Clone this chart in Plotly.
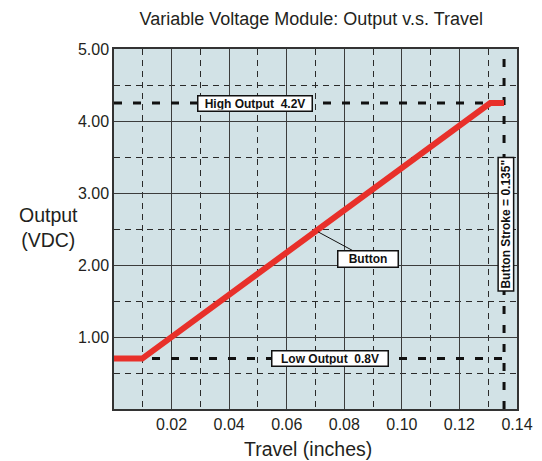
import plotly.graph_objects as go

# Output curve (travel in inches, output in VDC)
travel = [0.0, 0.0098, 0.1307, 0.1355]
output = [0.70, 0.70, 4.25, 4.25]

high_output = 4.25
low_output = 0.70
button_stroke = 0.1355

x_ticks = [0.02, 0.04, 0.06, 0.08, 0.10, 0.12, 0.14]
x_labels = ['0.02', '0.04', '0.06', '0.08', '0.10', '0.12', '0.14']
y_ticks = [1, 2, 3, 4, 5]
y_labels = ['1.00', '2.00', '3.00', '4.00', '5.00']

FONT = 'Liberation Sans, Arial, sans-serif'
TEXT = '#231f20'
BG = '#d2e2e6'
MAJOR = '#3c3c3c'
MINOR = '#2a2a2a'
REF_LINE = dict(color='#111111', width=3, dash='8px,11px')

fig = go.Figure()

# High / low output reference lines
fig.add_trace(go.Scatter(x=[0, button_stroke], y=[high_output, high_output],
                         mode='lines', line=REF_LINE, hoverinfo='skip'))
fig.add_trace(go.Scatter(x=[0, button_stroke], y=[low_output, low_output],
                         mode='lines', line=REF_LINE, hoverinfo='skip'))
# Button stroke line
fig.add_trace(go.Scatter(x=[button_stroke, button_stroke], y=[0, 5],
                         mode='lines', line=REF_LINE, hoverinfo='skip'))

# Output curve
fig.add_trace(go.Scatter(
    x=travel, y=output, mode='lines', name='Button',
    line=dict(color='#e8302a', width=6),
))

box = dict(bgcolor='white', bordercolor='#111111', borderwidth=1.5, borderpad=1,
           font=dict(family=FONT, size=12, color='#111111'))

annotations = [
    dict(x=0.049, y=high_output, text='<b>High Output  4.2V</b>', showarrow=False,
         width=111, height=12, **box),
    dict(x=0.0751, y=low_output, text='<b>Low Output  0.8V</b>', showarrow=False,
         width=113, height=12, **box),
    dict(x=0.0709, y=2.46, ax=50, ay=27, text='<b>Button</b>', showarrow=True,
         arrowhead=0, arrowwidth=1, arrowcolor='#111111', standoff=0,
         width=57, height=13, **box),
    dict(x=0.1362, y=2.56, text='<b>Button Stroke = 0.135"</b>', showarrow=False,
         textangle=-90, width=130, height=12, **box),
    # axis titles
    dict(x=-0.24, y=0.505, xref='paper', yref='paper', text='Output<br>(VDC)',
         showarrow=False, font=dict(family=FONT, size=19.5, color=TEXT), align='center'),
    dict(x=0.481, y=-0.112, xref='paper', yref='paper', text='Travel (inches)',
         showarrow=False, yanchor='middle', font=dict(family=FONT, size=19.5, color=TEXT)),
]

fig.update_layout(
    width=534, height=453,
    margin=dict(l=106, r=25, t=41, b=52, autoexpand=False),
    paper_bgcolor='white',
    plot_bgcolor=BG,
    showlegend=False,
    title=dict(text='Variable Voltage Module: Output v.s. Travel', x=0.568, xanchor='center',
               y=0.977, yanchor='middle',
               font=dict(family=FONT, size=18, color=TEXT)),
    annotations=annotations,
    font=dict(family=FONT, color=TEXT),
)

fig.update_xaxes(
    range=[0, 0.14], tickmode='array', tickvals=x_ticks, ticktext=x_labels,
    tickfont=dict(size=16, color=TEXT), ticks='', ticklen=0,
    showgrid=True, gridcolor=MAJOR, gridwidth=1,
    minor=dict(tickmode='linear', tick0=0.01, dtick=0.02, showgrid=True,
               gridcolor=MINOR, griddash='6px,5px', gridwidth=1),
    showline=True, linecolor='#333333', linewidth=1.5, mirror=True,
    zeroline=False, automargin=False,
)
fig.update_yaxes(
    range=[0, 5], tickmode='array', tickvals=y_ticks, ticktext=y_labels,
    tickfont=dict(size=16, color=TEXT), ticks='', ticklen=0,
    showgrid=True, gridcolor=MAJOR, gridwidth=1,
    minor=dict(tickmode='linear', tick0=0.5, dtick=1, showgrid=True,
               gridcolor=MINOR, griddash='6px,5px', gridwidth=1),
    showline=True, linecolor='#333333', linewidth=1.5, mirror=True,
    zeroline=False, automargin=False,
)

fig.write_html("out.html")
